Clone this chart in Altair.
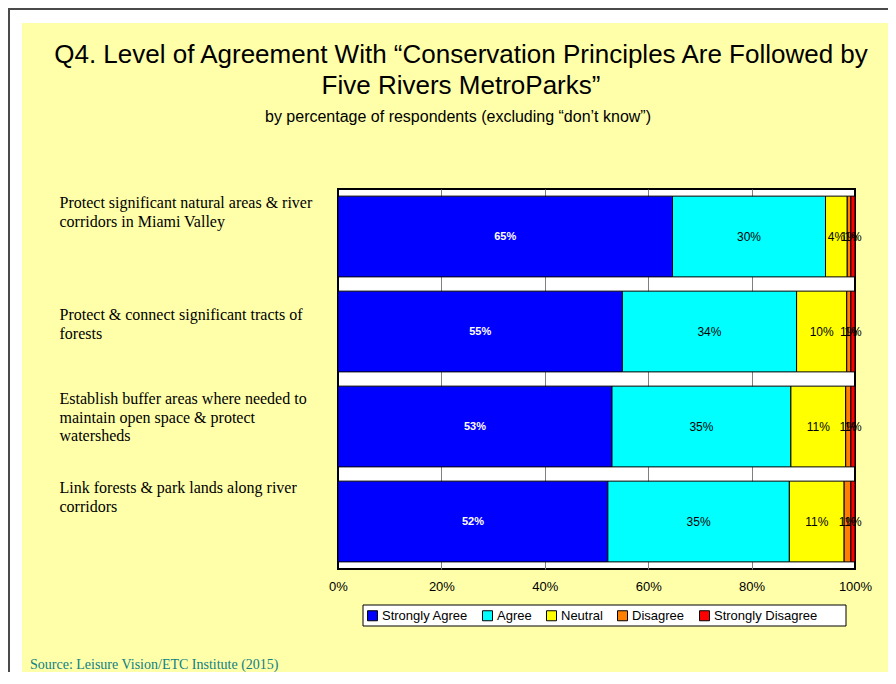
import altair as alt
import pandas as pd

categories = [
    "Protect significant natural areas & river\ncorridors in Miami Valley",
    "Protect & connect significant tracts of\nforests",
    "Establish buffer areas where needed to\nmaintain open space & protect\nwatersheds",
    "Link forests & park lands along river\ncorridors",
]
levels = ["Strongly Agree", "Agree", "Neutral", "Disagree", "Strongly Disagree"]
strongly_agree = [64.7, 55.0, 53.0, 52.2]
agree = [29.6, 33.7, 34.6, 35.1]
neutral = [4.2, 9.7, 10.6, 10.6]
disagree = [0.7, 0.8, 1.0, 1.3]
strongly_disagree = [0.8, 0.8, 0.8, 0.8]
x_ticks = [0, 20, 40, 60, 80, 100]

title_lines = [
    "Q4. Level of Agreement With \u201cConservation Principles Are Followed by",
    "Five Rivers MetroParks\u201d",
]
subtitle = "by percentage of respondents (excluding \u201cdon\u2019t know\u201d)"
source = "Source:  Leisure Vision/ETC Institute (2015)"

colors = ["#0000FF", "#00FFFF", "#FFFF00", "#FF8000", "#FF0000"]
label_offsets = [-28.5, -11.5, -22.5, -28.5]

rows = []
series = [strongly_agree, agree, neutral, disagree, strongly_disagree]
for i, cat in enumerate(categories):
    for j, lvl in enumerate(levels):
        rows.append({"Category": cat, "Level": lvl, "order": j, "value": series[j][i]})
df = pd.DataFrame(rows)

# label offset expression per category
expr = str(label_offsets[-1])
for cat, off in reversed(list(zip(categories[:-1], label_offsets[:-1]))):
    esc = cat.replace("\n", "\\n")
    expr = f"datum.value == '{esc}' ? {off} : ({expr})"

xscale = alt.Scale(domain=[0, 100], nice=False)
yscale = alt.Scale(domain=categories, paddingInner=0.15, paddingOuter=0.075)

y_axis = alt.Axis(
    title=None, domain=False, ticks=False, labelAlign="left", labelPadding=279,
    labelFont="Liberation Serif", labelFontSize=16, labelColor="black",
    labelLimit=320, labelLineHeight=18.5, labelBaseline="alphabetic",
    labelExpr="split(datum.label, '\\n')", labelOffset={"expr": expr},
)
x_axis = alt.Axis(
    title=None, values=x_ticks, labelExpr="datum.value + '%'", domain=False, ticks=False,
    grid=True, gridColor={"condition": {"test": "datum.value == 0 || datum.value == 100", "value": "transparent"}, "value": "#808080"},
    gridWidth=1, labelFont="Liberation Sans", labelFontSize=13, labelColor="black", labelPadding=11,
    labelFlush=False,
)

bars = alt.Chart(df).mark_bar(stroke="black", strokeWidth=1).encode(
    x=alt.X("value:Q", stack="zero", scale=xscale, axis=x_axis),
    y=alt.Y("Category:N", sort=categories, scale=yscale, axis=y_axis),
    order=alt.Order("order:Q"),
    color=alt.Color(
        "Level:N",
        scale=alt.Scale(domain=levels, range=colors),
        legend=alt.Legend(
            title=None, orient="none", legendX=28, legendY=420, direction="horizontal",
            symbolType="square", symbolSize=100, symbolStrokeColor="black", symbolStrokeWidth=1,
            labelFont="Liberation Sans", labelFontSize=13, labelColor="black", labelOffset=3,
            columnPadding=12, padding=0, symbolOpacity=1,
        ),
    ),
)

lbl_base = alt.Chart(df).transform_stack(
    stack="value", groupby=["Category"], sort=[alt.SortField("order")], as_=["x0", "x1"]
).transform_calculate(
    mid="(datum.x0 + datum.x1) / 2", label="format(datum.value, '.0f') + '%'"
)
lbl_sa = lbl_base.transform_filter("datum.order == 0").mark_text(
    color="white", fontWeight="bold", fontSize=11, font="Liberation Sans", baseline="middle"
).encode(
    x=alt.X("mid:Q", scale=xscale, title=None),
    y=alt.Y("Category:N", sort=categories, scale=yscale, title=None),
    text="label:N",
)
lbl_rest = lbl_base.transform_filter("datum.order > 0").mark_text(
    color="black", fontSize=12, font="Liberation Sans", baseline="middle"
).encode(
    x=alt.X("mid:Q", scale=xscale, title=None),
    y=alt.Y("Category:N", sort=categories, scale=yscale, title=None),
    text="label:N",
)

one = pd.DataFrame({"d": [0]})

def deco(x, x2, y, y2, fill, stroke=None):
    kw = dict(fill=fill)
    if stroke:
        kw.update(stroke=stroke, strokeWidth=1)
    else:
        kw.update(strokeWidth=0)
    return alt.Chart(one).mark_rect(**kw).encode(
        x=alt.value(x), x2=alt.value(x2), y=alt.value(y), y2=alt.value(y2)
    )

frame = [
    deco(-328, -316, -179, 483, "white"),
    deco(-328, 550, -179, -166, "white"),
    deco(-330, -328, -181, 483, "#4a4a4a"),
    deco(-330, 550, -181, -179, "#4a4a4a"),
    deco(25, 508, 416, 437, "white", "black"),
]

title = alt.Chart(one).mark_text(
    font="Liberation Sans", fontSize=26, lineHeight=31, align="center", baseline="alphabetic", color="black"
).encode(x=alt.value(123), y=alt.value(-126), text=alt.value(title_lines))

sub = alt.Chart(one).mark_text(
    font="Liberation Sans", fontSize=16, align="center", baseline="alphabetic", color="black"
).encode(x=alt.value(120), y=alt.value(-67), text=alt.value(subtitle))

src = alt.Chart(one).mark_text(
    font="Liberation Serif", fontSize=14, align="left", baseline="alphabetic", color="#108080"
).encode(x=alt.value(-308), y=alt.value(480), text=alt.value(source))

chart = alt.layer(*frame, bars, lbl_sa, lbl_rest, title, sub, src).properties(
    width=517, height=380,
    padding={"left": 330, "top": 181, "right": 33, "bottom": 103},
    autosize=alt.AutoSizeParams(type="none"),
    background="#FFFFAA",
).configure_view(fill="white", stroke="black", strokeWidth=2)

chart.save("out.html", embed_options={"renderer": "svg", "actions": False})
